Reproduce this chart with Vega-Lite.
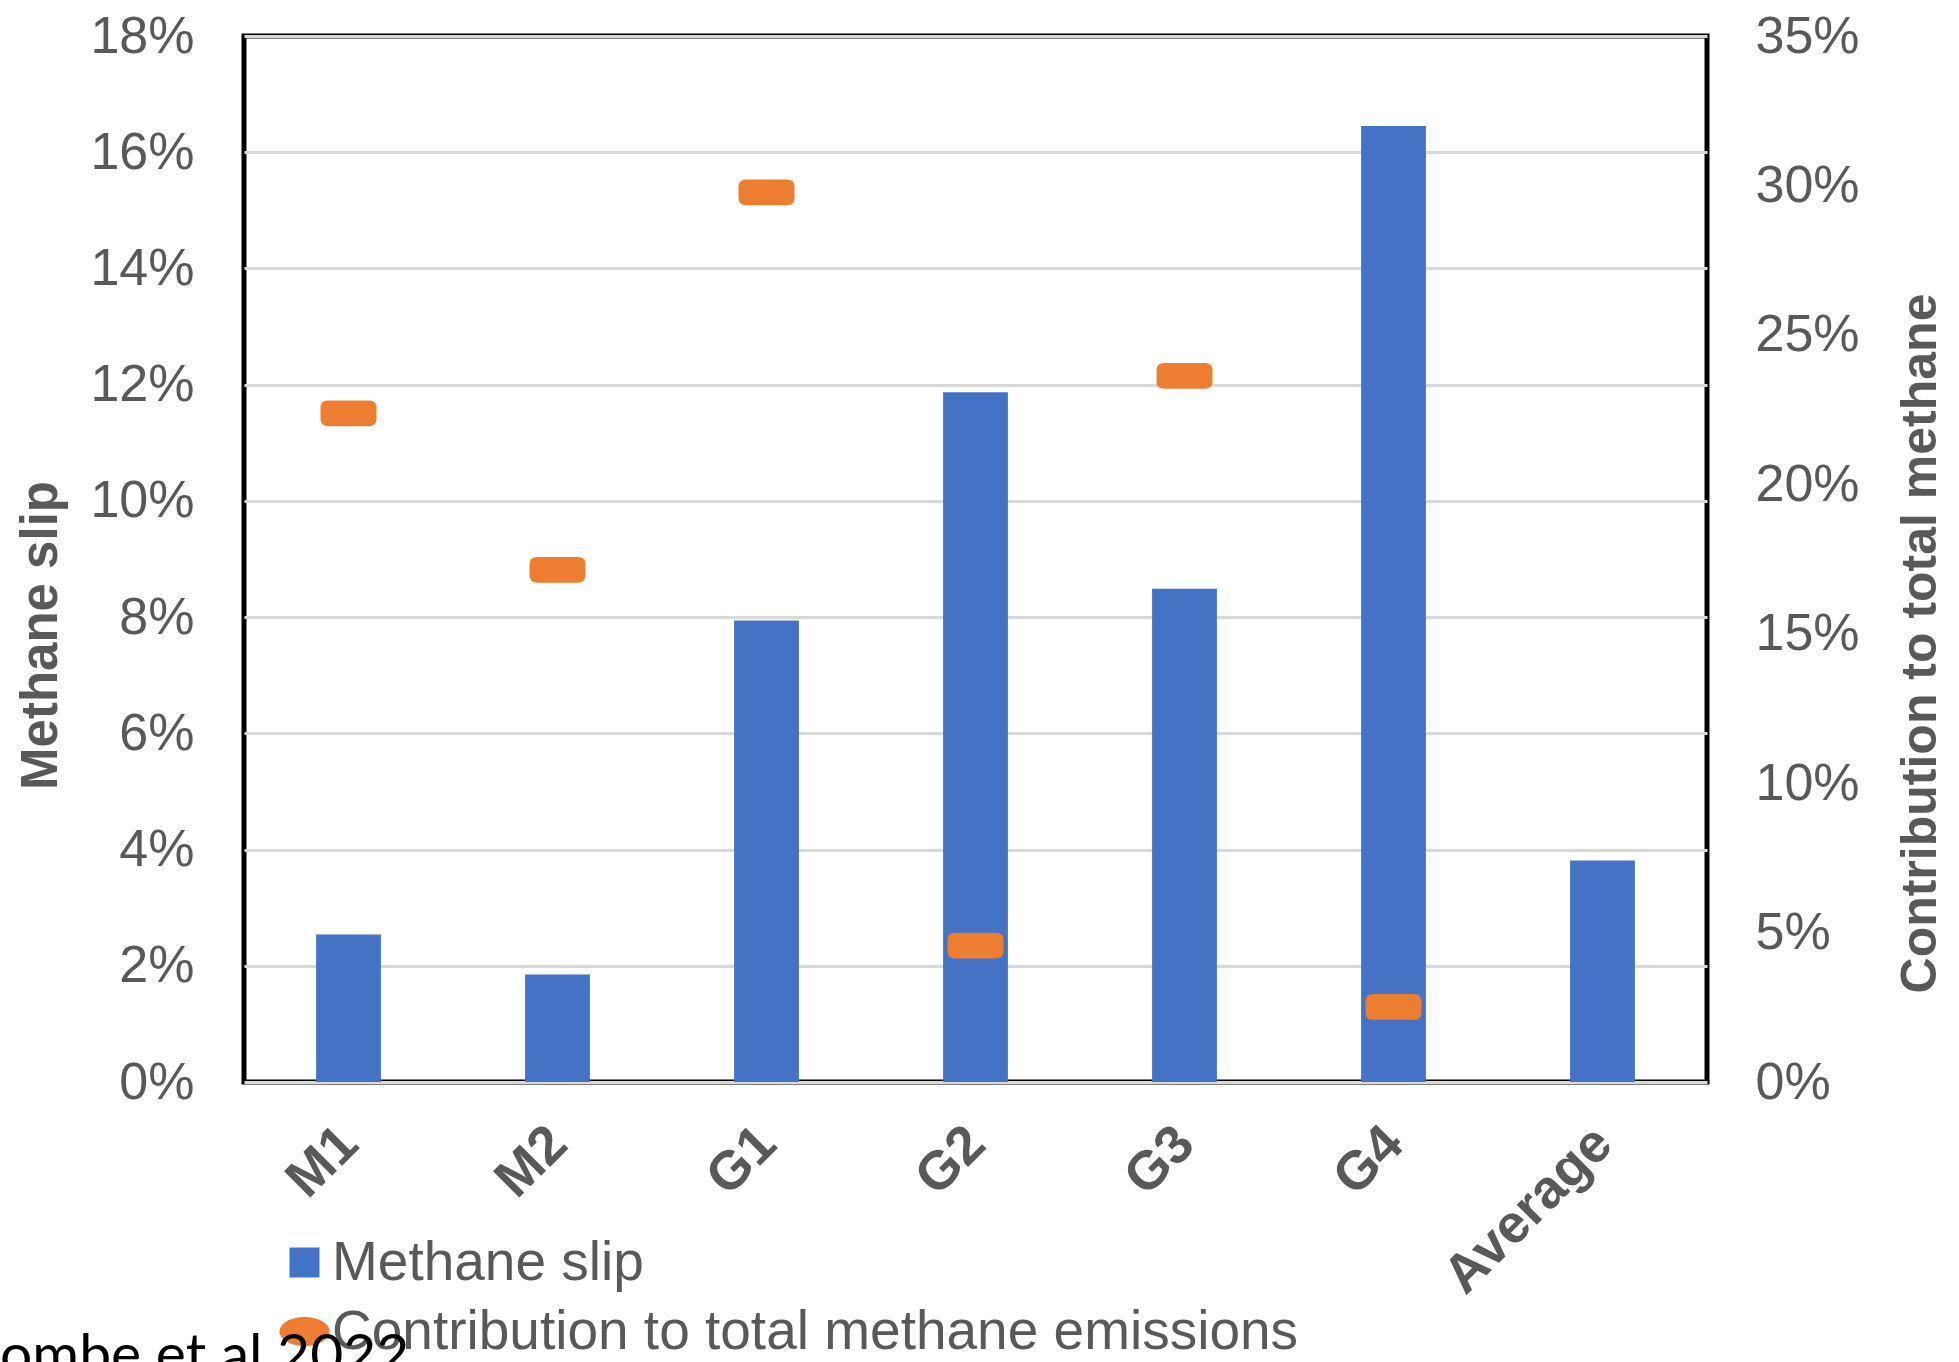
{
  "$schema": "https://vega.github.io/schema/vega-lite/v6.json",
  "autosize": {"type": "none"},
  "padding": {"left": 244, "top": 36, "right": 252, "bottom": 280},
  "width": 1463,
  "height": 1046,
  "background": "white",
  "config": {
    "view": {"stroke": "black", "strokeWidth": 5},
    "font": "Liberation Sans"
  },
  "title": {
    "text": "ombe et al 2022",
    "orient": "bottom",
    "anchor": "start",
    "frame": "group",
    "font": "Lato",
    "fontSize": 57,
    "fontWeight": "normal",
    "color": "black",
    "dx": -244,
    "offset": 14,
    "baseline": "alphabetic"
  },
  "data": {
    "values": [
      {"site": "M1", "slip": 0.0254, "contrib": 0.2237},
      {"site": "M2", "slip": 0.0185, "contrib": 0.1714},
      {"site": "G1", "slip": 0.0794, "contrib": 0.2977},
      {"site": "G2", "slip": 0.1187, "contrib": 0.0456},
      {"site": "G3", "slip": 0.0849, "contrib": 0.2363},
      {"site": "G4", "slip": 0.1645, "contrib": 0.0251},
      {"site": "Average", "slip": 0.0381, "contrib": null}
    ]
  },
  "encoding": {
    "x": {
      "field": "site",
      "type": "nominal",
      "sort": null,
      "scale": {"paddingInner": 0, "paddingOuter": 0},
      "axis": {
        "title": null,
        "labelAngle": -45,
        "labelFont": "Liberation Sans",
        "labelFontSize": 54,
        "labelFontWeight": "bold",
        "labelColor": "#595959",
        "labelPadding": 34,
        "labelOffset": -18,
        "ticks": false,
        "domain": false,
        "grid": false,
        "labelLimit": 1000
      }
    }
  },
  "layer": [
    {
      "mark": {"type": "bar", "width": {"band": 0.31}},
      "encoding": {
        "y": {
          "field": "slip",
          "type": "quantitative",
          "scale": {"domain": [0, 0.18], "nice": false, "zero": true},
          "axis": {
            "title": "Methane slip",
            "orient": "left",
            "values": [0, 0.02, 0.04, 0.06, 0.08, 0.1, 0.12, 0.14, 0.16, 0.18],
            "format": ".0%",
            "labelFont": "Liberation Sans",
            "labelFontSize": 52,
            "labelColor": "#595959",
            "labelPadding": 50,
            "ticks": false,
            "domain": false,
            "grid": true,
            "gridColor": "#d9d9d9",
            "gridWidth": 3,
            "titleFont": "Liberation Sans",
            "titleFontSize": 51,
            "titleFontWeight": "bold",
            "titleColor": "#595959",
            "titleAngle": 270,
            "titleAlign": "center",
            "titleBaseline": "middle",
            "titleX": -203,
            "titleY": 599
          }
        },
        "color": {
          "datum": "Methane slip",
          "scale": {
            "domain": ["Methane slip", "Contribution to total methane emissions"],
            "range": ["#4472C4", "#ED7D31"]
          },
          "legend": {
            "title": null,
            "orient": "none",
            "legendX": 33,
            "legendY": 1199,
            "symbolSize": 2500,
            "labelFont": "Liberation Sans",
            "labelFontSize": 55,
            "labelColor": "#595959",
            "labelLimit": 2000,
            "labelOffset": 0,
            "rowPadding": 13,
            "padding": 0,
            "encode": {
              "symbols": {
                "update": {
                  "shape": {"signal": "datum.value === 'Methane slip' ? 'M-0.6,-0.6H0.6V0.6H-0.6Z' : 'M-1,0A1,0.58 0 1,0 1,0A1,0.58 0 1,0 -1,0Z'"},
                  "fill": {"scale": "color", "field": "value"},
                  "fillOpacity": {"value": 1},
                  "strokeWidth": {"value": 0}
                }
              }
            }
          }
        }
      }
    },
    {
      "mark": {
        "type": "point",
        "filled": true,
        "opacity": 1,
        "size": 3136,
        "shape": "M-0.72,-0.46H0.72Q1,-0.46 1,-0.2V0.2Q1,0.46 0.72,0.46H-0.72Q-1,0.46 -1,0.2V-0.2Q-1,-0.46 -0.72,-0.46Z"
      },
      "encoding": {
        "y": {
          "field": "contrib",
          "type": "quantitative",
          "scale": {"domain": [0, 0.35], "nice": false, "zero": true},
          "axis": {
            "title": "Contribution to total methane",
            "orient": "right",
            "values": [0, 0.05, 0.1, 0.15, 0.2, 0.25, 0.3, 0.35],
            "format": ".0%",
            "labelFont": "Liberation Sans",
            "labelFontSize": 52,
            "labelColor": "#595959",
            "labelPadding": 48,
            "ticks": false,
            "domain": false,
            "grid": false,
            "titleFont": "Liberation Sans",
            "titleFontSize": 50,
            "titleFontWeight": "bold",
            "titleColor": "#595959",
            "titleAngle": 270,
            "titleAlign": "center",
            "titleBaseline": "middle",
            "titleX": 213,
            "titleY": 607
          }
        },
        "color": {"datum": "Contribution to total methane emissions"}
      }
    }
  ],
  "resolve": {"scale": {"y": "independent"}}
}
